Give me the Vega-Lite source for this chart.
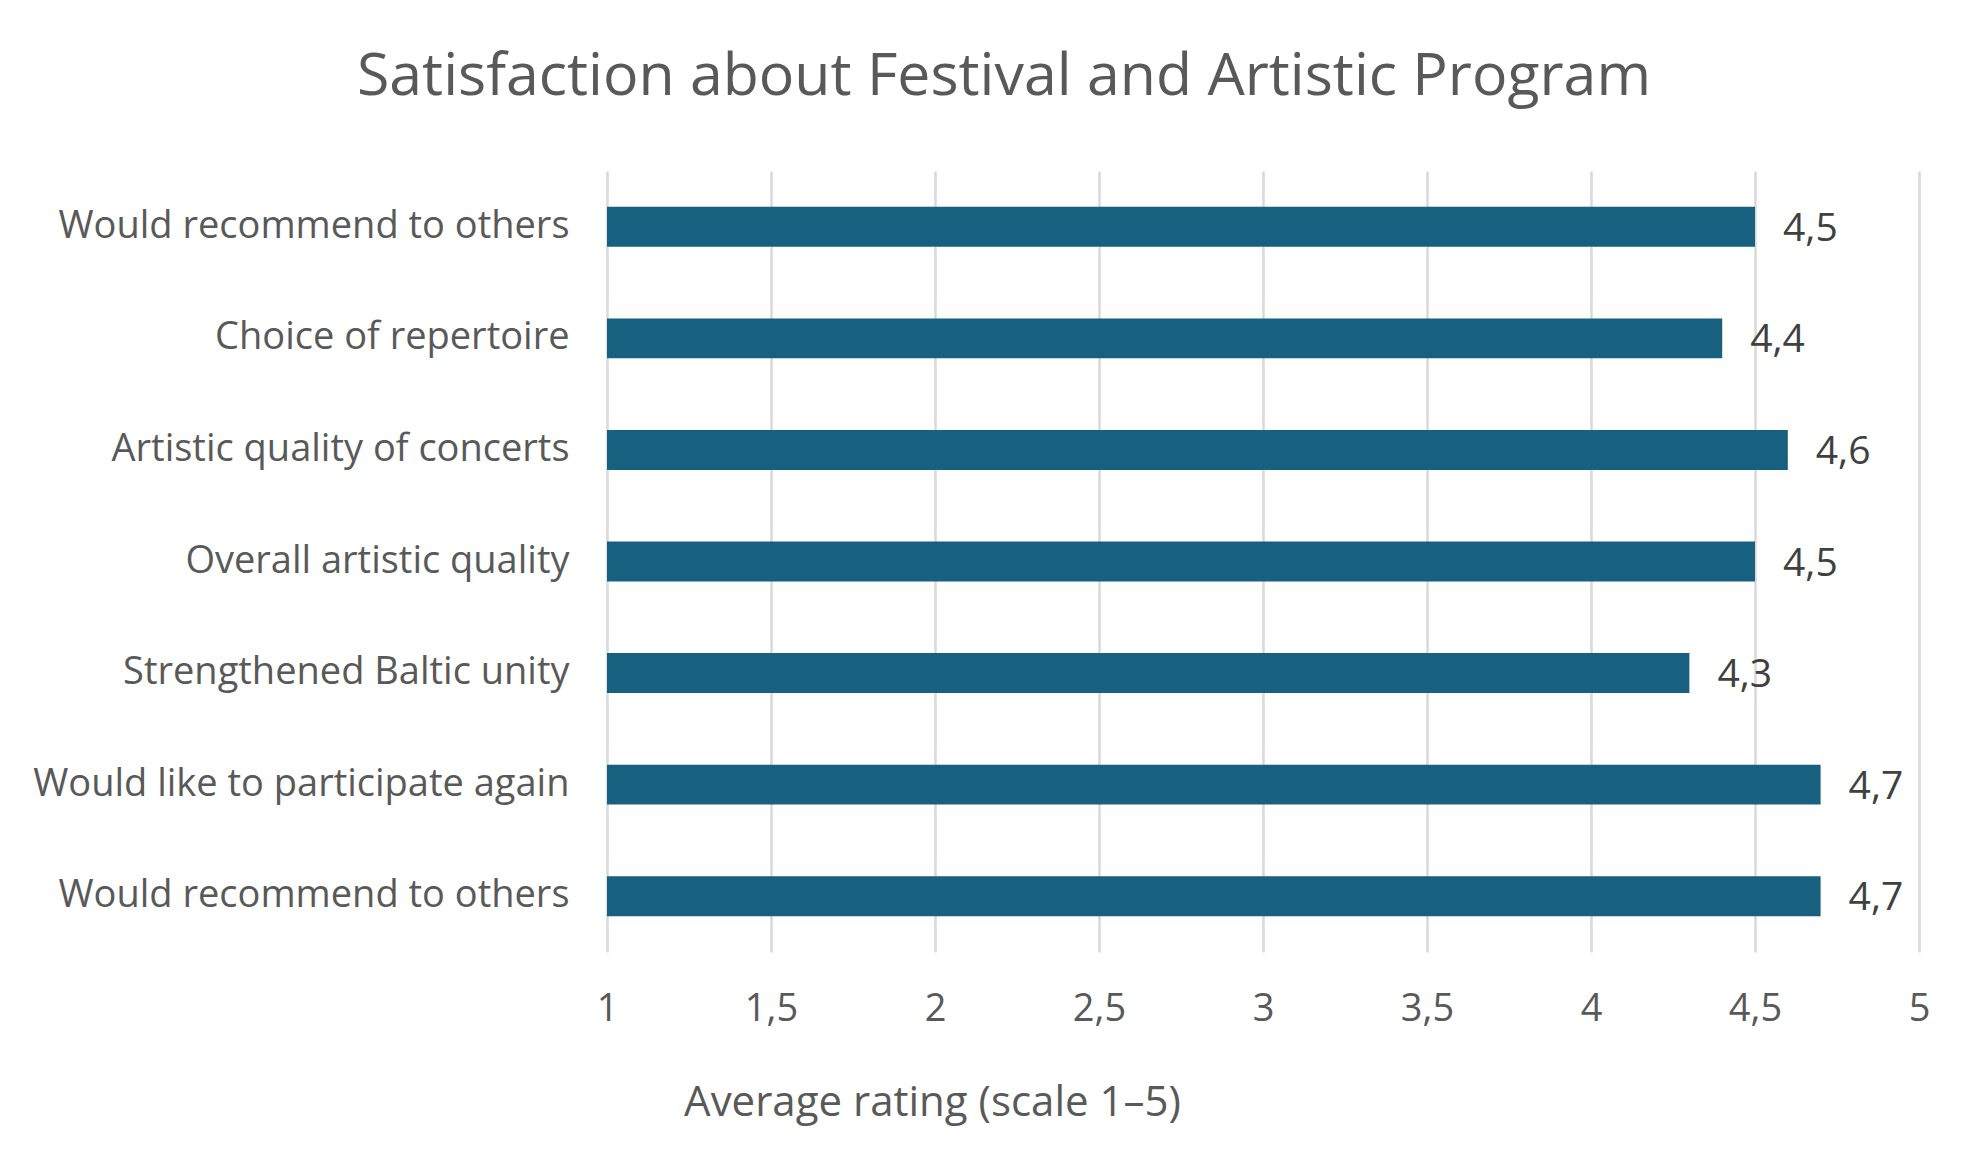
{
  "$schema": "https://vega.github.io/schema/vega-lite/v6.json",
  "width": 1312,
  "height": 781,
  "autosize": "none",
  "padding": {"left": 607, "top": 171, "right": 64, "bottom": 206},
  "background": "white",
  "title": {
    "text": "Satisfaction about Festival and Artistic Program",
    "font": "Open Sans",
    "fontSize": 59,
    "fontWeight": "normal",
    "color": "#595959",
    "anchor": "middle",
    "dx": -259,
    "offset": 17,
    "baseline": "alphabetic"
  },
  "config": {
    "view": {"stroke": null},
    "font": "Open Sans",
    "locale": {
      "number": {
        "decimal": ",",
        "thousands": " ",
        "grouping": [3],
        "currency": ["", " €"]
      }
    }
  },
  "data": {
    "values": [
      {"key": "1|Would recommend to others", "rating": 4.5},
      {"key": "2|Choice of repertoire", "rating": 4.4},
      {"key": "3|Artistic quality of concerts", "rating": 4.6},
      {"key": "4|Overall artistic quality", "rating": 4.5},
      {"key": "5|Strengthened Baltic unity", "rating": 4.3},
      {"key": "6|Would like to participate again", "rating": 4.7},
      {"key": "7|Would recommend to others", "rating": 4.7}
    ]
  },
  "encoding": {
    "y": {
      "field": "key",
      "type": "nominal",
      "sort": null,
      "scale": {"paddingInner": 0.642, "paddingOuter": 0.321},
      "axis": {
        "title": null,
        "labelExpr": "split(datum.label, '|')[1]",
        "labelFontSize": 38,
        "labelColor": "#595959",
        "labelPadding": 38,
        "ticks": false,
        "domain": false,
        "labelLimit": 600
      }
    },
    "x": {
      "field": "rating",
      "type": "quantitative",
      "scale": {"domain": [1, 5], "nice": false, "zero": false},
      "axis": {
        "title": "Average rating (scale 1–5)",
        "values": [1, 1.5, 2, 2.5, 3, 3.5, 4, 4.5, 5],
        "format": ".1~f",
        "labelFontSize": 38,
        "labelColor": "#595959",
        "labelPadding": 38,
        "labelFlush": false,
        "ticks": false,
        "domain": false,
        "grid": true,
        "gridColor": "#d9d9d9",
        "gridWidth": 2.5,
        "titleFontSize": 42,
        "titleFontWeight": "normal",
        "titleColor": "#595959",
        "titleAnchor": "start",
        "titleAlign": "center",
        "titleX": 325,
        "titleY": 150,
        "titleBaseline": "middle"
      }
    }
  },
  "layer": [
    {
      "mark": {"type": "bar", "color": "#17607f"},
      "encoding": {"x2": {"datum": 1}}
    },
    {
      "mark": {
        "type": "text",
        "align": "left",
        "baseline": "middle",
        "dx": 28,
        "dy": 2,
        "fontSize": 39,
        "color": "#404040"
      },
      "encoding": {
        "text": {"field": "rating", "type": "quantitative", "format": ".1f"}
      }
    }
  ]
}
